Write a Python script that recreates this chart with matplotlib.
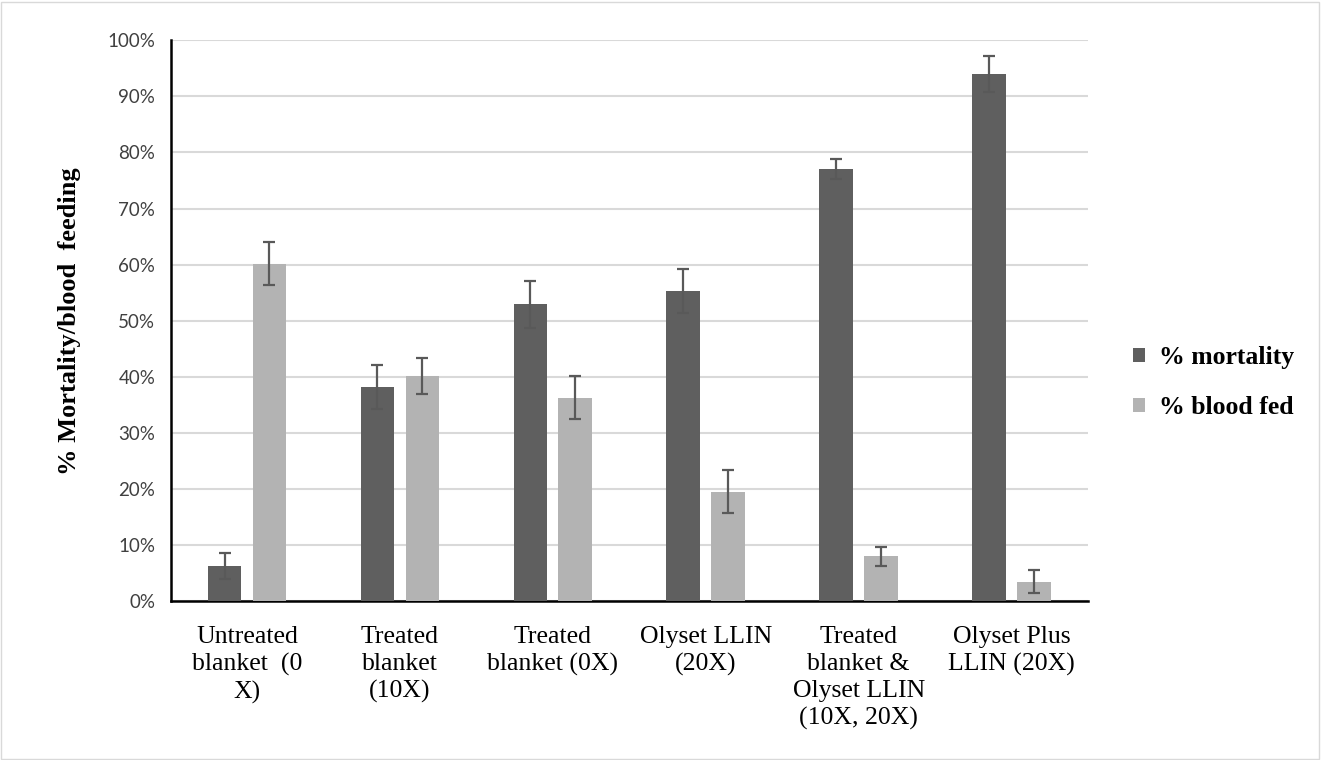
import numpy as np
import matplotlib
matplotlib.use("Agg")
import matplotlib.pyplot as plt
from matplotlib.patches import Rectangle
from matplotlib.ticker import PercentFormatter

categories = [
    "Untreated\nblanket  (0\nX)",
    "Treated\nblanket\n(10X)",
    "Treated\nblanket (0X)",
    "Olyset LLIN\n(20X)",
    "Treated\nblanket &\nOlyset LLIN\n(10X, 20X)",
    "Olyset Plus\nLLIN (20X)",
]
mortality = [6.3, 38.2, 52.9, 55.3, 77.0, 94.0]
mortality_err = [2.3, 3.9, 4.2, 3.9, 1.8, 3.2]
blood_fed = [60.2, 40.2, 36.3, 19.5, 8.0, 3.5]
blood_fed_err = [3.9, 3.2, 3.9, 3.8, 1.7, 2.1]

plt.rcParams["font.family"] = ["Liberation Serif", "DejaVu Serif"]

fig = plt.figure(figsize=(13.22, 7.6), dpi=100)
ax = fig.add_axes([0.129, 0.209, 0.694, 0.738])

x = np.arange(len(categories))
w = 0.22
off = 0.147
err_kw = dict(ecolor="#595959", elinewidth=1.6, capsize=4.5, capthick=1.6)

ax.bar(x - off, mortality, w, yerr=mortality_err, color="#5f5f5f",
       label="% mortality", error_kw=err_kw, zorder=3)
ax.bar(x + off, blood_fed, w, yerr=blood_fed_err, color="#b3b3b3",
       label="% blood fed", error_kw=err_kw, zorder=3)

ax.set_xlim(-0.5, len(categories) - 0.5)
ax.set_ylim(0, 100)
ax.set_yticks(np.arange(0, 101, 10))
ax.yaxis.set_major_formatter(PercentFormatter(decimals=0))
ax.grid(axis="y", color="#d9d9d9", linewidth=1.5, zorder=0)
ax.set_axisbelow(True)

ax.set_xticks(x)
ax.set_xticklabels(categories, fontsize=18.5, linespacing=1.28)
ax.tick_params(axis="both", length=0)
ax.tick_params(axis="x", pad=18)
ax.tick_params(axis="y", pad=11)
for lbl in ax.get_yticklabels():
    lbl.set_fontfamily(["Lato", "DejaVu Sans"])
    lbl.set_fontsize(13.5)
    lbl.set_color("#404040")

for s in ["top", "right"]:
    ax.spines[s].set_visible(False)
ax.spines["left"].set_linewidth(1.8)
ax.spines["bottom"].set_linewidth(1.8)

ax.set_ylabel("% Mortality/blood  feeding", fontsize=19, fontweight="bold", labelpad=19)

fig.legend(loc="center left", bbox_to_anchor=(0.857, 0.497), frameon=False,
           prop=dict(size=18.5, weight="bold"), handlelength=0.45, handleheight=0.45,
           handletextpad=0.55, labelspacing=1.05, borderpad=0, borderaxespad=0)

fig.patches.append(Rectangle((0.001, 0.001), 0.997, 0.997, transform=fig.transFigure,
                             fill=False, edgecolor="#d9d9d9", linewidth=1))

fig.savefig("out.png", dpi=100)
